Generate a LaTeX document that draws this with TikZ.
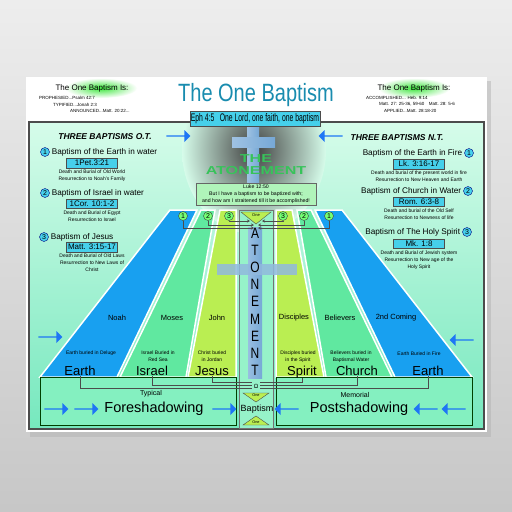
\documentclass[tikz,border=0pt]{standalone}
\usepackage{fontspec}
\setmainfont{Liberation Sans}
\newfontfamily\titlefont[FakeStretch=0.8]{Liberation Sans}
\newfontfamily\narrowfont[FakeStretch=0.62]{Liberation Sans}
\newfontfamily\widefont[FakeStretch=1.4]{Liberation Sans}
\usetikzlibrary{arrows.meta,positioning,calc,shapes.geometric,shapes.arrows}
\definecolor{panelTop}{RGB}{214,252,234}
\definecolor{panelBot}{RGB}{118,232,190}
\definecolor{stripBlue}{RGB}{24,160,240}
\definecolor{stripGreen}{RGB}{96,232,160}
\definecolor{stripLime}{RGB}{186,238,82}
\definecolor{refCyan}{RGB}{70,208,235}
\definecolor{crossBlue}{RGB}{118,168,214}
\definecolor{titleTeal}{RGB}{25,140,175}
\definecolor{arrowBlue}{RGB}{30,118,245}
\definecolor{boxMint}{RGB}{132,240,192}
\definecolor{lukeGreen}{RGB}{176,244,186}
\definecolor{glowGreen}{RGB}{60,230,60}
\definecolor{atoneGreen}{RGB}{55,195,90}
\newcommand\fsz[2]{\fontsize{#1}{#2}\selectfont}

\begin{document}
\begin{tikzpicture}[x=1pt,y=-1pt,>={Stealth[length=3pt,width=3pt]},
  ref/.style={draw=black!70,fill=refCyan,inner sep=0.5pt,minimum width=51pt,minimum height=9.5pt,font=\fsz{8}{9}},
  note/.style={align=center,inner sep=0pt,font=\fsz{5}{7}},
  head/.style={inner sep=0pt,font=\fsz{8.2}{9}},
  num/.style={circle,draw=blue!50!black,fill=refCyan,inner sep=0pt,minimum size=9pt,font=\fsz{7}{7}},
  topnum/.style={circle,draw=black!75,fill=green!55!white,inner sep=0pt,minimum size=9pt,font=\fsz{7}{7}},
  small/.style={anchor=west,inner sep=0pt,font=\fsz{4.5}{5}},
  harrow/.style={single arrow,fill=arrowBlue,inner sep=0pt,minimum height=24pt,minimum width=12pt,single arrow head extend=2pt},
  larrow/.style={harrow,shape border rotate=180},
  strip/.style={draw=white,line width=1.5pt},
  who/.style={inner sep=0pt,font=\fsz{7.5}{8}},
  place/.style={anchor=base,inner sep=0.5pt,font=\fsz{13}{14}},
  bbox/.style={draw=green!25!black,fill=boxMint,line width=0.8pt,inner sep=0pt},
  vlet/.style={inner sep=0pt,font=\titlefont\fsz{15}{15}},
  conn/.style={draw=black!70,line width=0.5pt}]
\useasboundingbox (0,0) rectangle (512,512);
% backdrop and poster
\shade[top color=black!7,bottom color=black!22] (0,0) rectangle (512,512);
\fill[black!30,opacity=0.5] (30,81) rectangle (491,437);
\fill[white] (26,77) rectangle (487,432);
\shade[top color=panelTop,bottom color=panelBot] (29,122) rectangle (484,429);

% cross with its shadow
\begin{scope}
  \clip (29,122) rectangle (484,429);
  \shade[inner color=black!75,outer color=panelTop] (254,150) ellipse (72 and 84);
\end{scope}
\draw[black!70,line width=1.3pt] (29,122) rectangle (484,429);
\shade[left color=crossBlue!70,right color=crossBlue] (247,120) rectangle (259,186);
\shade[left color=crossBlue!70,right color=crossBlue] (232,137) rectangle (275,147);
\node[font=\widefont\bfseries\fsz{11.5}{12},text=atoneGreen,align=center] (atone) at (256,164.5) {THE\\ATONEMENT};
\node[draw=black!60,fill=lukeGreen,minimum width=120pt,minimum height=22pt,inner sep=0pt,align=center,font=\fsz{5.2}{7}] (luke) at (256,194) {Luke 12:50\\But I have a baptism to be baptized with;\\and how am I straitened till it be accomplished!};

% heading
\node[draw=black!70,fill=refCyan,minimum width=130pt,minimum height=15pt,inner sep=0pt,font=\narrowfont\fsz{11}{12}] (eph) at (255,118.5) {Eph 4:5\enspace One Lord, one faith, one baptism};
\node[font=\titlefont\fsz{25}{26},text=titleTeal,inner sep=0pt] (title) at (256,95) {The One Baptism};
\shade[inner color=glowGreen,outer color=white] (101,88) ellipse (36 and 10);
\shade[inner color=glowGreen,outer color=white] (414,88) ellipse (36 and 10);
\node[inner sep=0pt,font=\fsz{8}{9}] (isL) at (92,88) {The One Baptism Is:};
\node[small] (proL) at (39,98) {PROPHESIED...Psalm 42:7};
\node[small] (typL) at (53,104.5) {TYPIFIED...Jonah 2:3};
\node[small] (annL) at (70,111) {ANNOUNCED...Matt. 20:22...};
\node[inner sep=0pt,font=\fsz{8}{9}] (isR) at (414,88) {The One Baptism Is:};
\node[small] (accR) at (366,98) {ACCOMPLISHED... Heb. 9:14};
\node[small] (matR) at (379,104.5) {Matt. 27: 25-36, 59-60\quad Matt. 28: 5-6};
\node[small] (appR) at (384,111) {APPLIED...Matt. 28:18-20};

% old testament column
\node[inner sep=0pt,font=\bfseries\itshape\fsz{8.5}{9}] (otHead) at (105,137) {THREE BAPTISMS O.T.};
\node[num] (n1L) at (45,152) {1};
\node[head,right=2pt of n1L] (b1L) {Baptism of the Earth in water};
\node[ref] (r1L) at (92,163) {1Pet.3:21};
\node[note,below=2pt of r1L] (d1L) {Death and Burial of Old World\\Resurrection to Noah's Family};
\node[num] (n2L) at (45,193) {2};
\node[head,right=2pt of n2L] (b2L) {Baptism of Israel in water};
\node[ref] (r2L) at (92,203.5) {1Cor. 10:1-2};
\node[note,below=2pt of r2L] (d2L) {Death and Burial of Egypt\\Resurrection to Israel};
\node[num] (n3L) at (44,237) {3};
\node[head,right=2pt of n3L] (b3L) {Baptism of Jesus};
\node[ref] (r3L) at (92,247) {Matt. 3:15-17};
\node[note,below=2pt of r3L] (d3L) {Death and Burial of Old Laws\\Resurrection to New Laws of\\Christ};

% new testament column
\node[inner sep=0pt,font=\bfseries\itshape\fsz{8.5}{9}] (ntHead) at (397,138) {THREE BAPTISMS N.T.};
\node[num] (n1R) at (469,153) {1};
\node[head,left=2pt of n1R] (b1R) {Baptism of the Earth in Fire};
\node[ref] (r1R) at (419,164) {Lk. 3:16-17};
\node[note,below=2pt of r1R] (d1R) {Death and burial of the present world in fire\\Resurrection to New Heaven and Earth};
\node[num] (n2R) at (468,191) {2};
\node[head,left=2pt of n2R] (b2R) {Baptism of Church in Water};
\node[ref] (r2R) at (419,201.5) {Rom. 6:3-8};
\node[note,below=2pt of r2R] (d2R) {Death and burial of the Old Self\\Resurrection to Newness of life};
\node[num] (n3R) at (467,232) {3};
\node[head,left=2pt of n3R] (b3R) {Baptism of The Holy Spirit};
\node[ref] (r3R) at (419,243.5) {Mk. 1:8};
\node[note,below=2pt of r3R] (d3R) {Death and Burial of Jewish system\\Resurrection to New age of the\\Holy Spirit};

% the six strips, left side mirrored to the right
\foreach \sx/\dx in {1/0,-1/512}{
  \begin{scope}[xshift=\dx,xscale=\sx]
    \path[fill=stripBlue,strip] (170,210) -- (197,210) -- (117,377) -- (40,377) -- cycle;
    \path[fill=stripGreen,strip] (201,210) -- (215,210) -- (186,377) -- (120,377) -- cycle;
    \path[fill=stripLime,strip] (220,210) -- (236,210) -- (236,377) -- (188,377) -- cycle;
  \end{scope}
}

% bottom boxes and centre column
\node[bbox,minimum width=196pt,minimum height=48pt] (foreBox) at (138,401) {};
\node[bbox,minimum width=196pt,minimum height=48pt] (postBox) at (374,401) {};
\draw[black!55,fill=boxMint!85!white] (239,210) rectangle (273,428);
\shade[left color=crossBlue!75,right color=crossBlue] (248,227) rectangle (262,378);
\fill[crossBlue!80!white,opacity=0.85] (217,264) rectangle (297,275);
\foreach \ch [count=\i from 0] in {A,T,O,N,E,M,E,N,T}
  \node[vlet] (let\i) at (255,233+17.2*\i) {\ch};

% numbered circles and the top triangle
\filldraw[draw=black!70,fill=stripLime] (241,212) -- (271,212) -- (256,224) -- cycle;
\node[inner sep=0pt,font=\fsz{4}{4}] (oneT) at (256,215.5) {One};
\foreach \nm/\x/\t in {t1L/183/1,t2L/208/2,t3L/229/3,t3R/283/3,t2R/304/2,t1R/329/1}
  \node[topnum] (\nm) at (\x,216) {\t};
\coordinate (h1L) at (254,228);
\coordinate (h2L) at (254,225);
\coordinate (h3L) at (250,221);
\coordinate (h1R) at (258,228);
\coordinate (h2R) at (258,225);
\coordinate (h3R) at (262,221);
\foreach \a/\b in {t1L/h1L,t2L/h2L,t3L/h3L,t1R/h1R,t2R/h2R,t3R/h3R}
  \draw[conn,->] (\a) |- (\b);

% strip texts
\node[who] (noah) at (117,318) {Noah};
\node[who] (moses) at (172,318) {Moses};
\node[who] (john) at (217,318) {John};
\node[who] (disc) at (294,318) {Disciples};
\node[who] (beli) at (340,318) {Believers};
\node[who] (coming) at (396,318) {2nd Coming};
\node[note] (nEarthL) at (91,353) {Earth buried in Deluge};
\node[note] (nIsrael) at (158,356.5) {Israel Buried in\\Red Sea};
\node[note] (nJesus) at (212,356.5) {Christ buried\\in Jordan};
\node[note] (nSpirit) at (298,356.5) {Disciples buried\\in the Spirit};
\node[note] (nChurch) at (351,356.5) {Believers buried in\\Baptismal Water};
\node[note] (nEarthR) at (419,354) {Earth Buried in Fire};
\node[place] (pEarthL) at (80,375) {Earth};
\node[place] (pIsrael) at (152,375) {Israel};
\node[place] (pJesus) at (212,375) {Jesus};
\node[place] (pSpirit) at (302,375) {Spirit};
\node[place] (pChurch) at (357,375) {Church};
\node[place] (pEarthR) at (428,375) {Earth};

% lines that meet under the cross
\node[inner sep=0pt,font=\fsz{6}{6}] (omg) at (256,386) {Ω};
\coordinate (b1L) at (252,388);
\coordinate (b2L) at (252,385);
\coordinate (b3L) at (252,382);
\coordinate (b1R) at (260,388);
\coordinate (b2R) at (260,385);
\coordinate (b3R) at (260,382);
\foreach \a/\b in {pEarthL/b1L,pIsrael/b2L,pJesus/b3L,pEarthR/b1R,pChurch/b2R,pSpirit/b3R}
  \draw[conn] (\a.south) |- (\b);

% bottom row
\node[inner sep=0pt,font=\fsz{7}{8}] (typ) at (151,394) {Typical};
\node[inner sep=0pt,font=\fsz{14.5}{15}] (foreTxt) at (154,409) {Foreshadowing};
\node[inner sep=0pt,font=\fsz{7}{8}] (memo) at (355,395) {Memorial};
\node[inner sep=0pt,font=\fsz{14.5}{15}] (postTxt) at (359,409) {Postshadowing};
\filldraw[draw=black!70,fill=stripLime] (243,393) -- (269,393) -- (256,402) -- cycle;
\filldraw[draw=black!70,fill=stripLime] (243,425) -- (269,425) -- (256,416) -- cycle;
\node[inner sep=0pt,font=\fsz{3.8}{4}] (oneTop) at (256,395.5) {One};
\node[inner sep=0pt,font=\fsz{3.8}{4}] (oneBot) at (256,422) {One};
\node[inner sep=0pt,font=\fsz{9}{9}] (bap) at (257,409) {Baptism};

% blue arrows
\node[harrow] (arTL) at (178,136) {};
\node[larrow] (arTR) at (331,136) {};
\node[harrow] (arML) at (50,337) {};
\node[larrow] (arMR) at (462,340) {};
\node[harrow] (arB1) at (56,409) {};
\node[harrow] (arB2) at (86,409) {};
\node[harrow] (arB3) at (224,409) {};
\node[larrow] (arB4) at (287,409) {};
\node[larrow] (arB5) at (426,409) {};
\node[larrow] (arB6) at (454,409) {};
\end{tikzpicture}
\end{document}
